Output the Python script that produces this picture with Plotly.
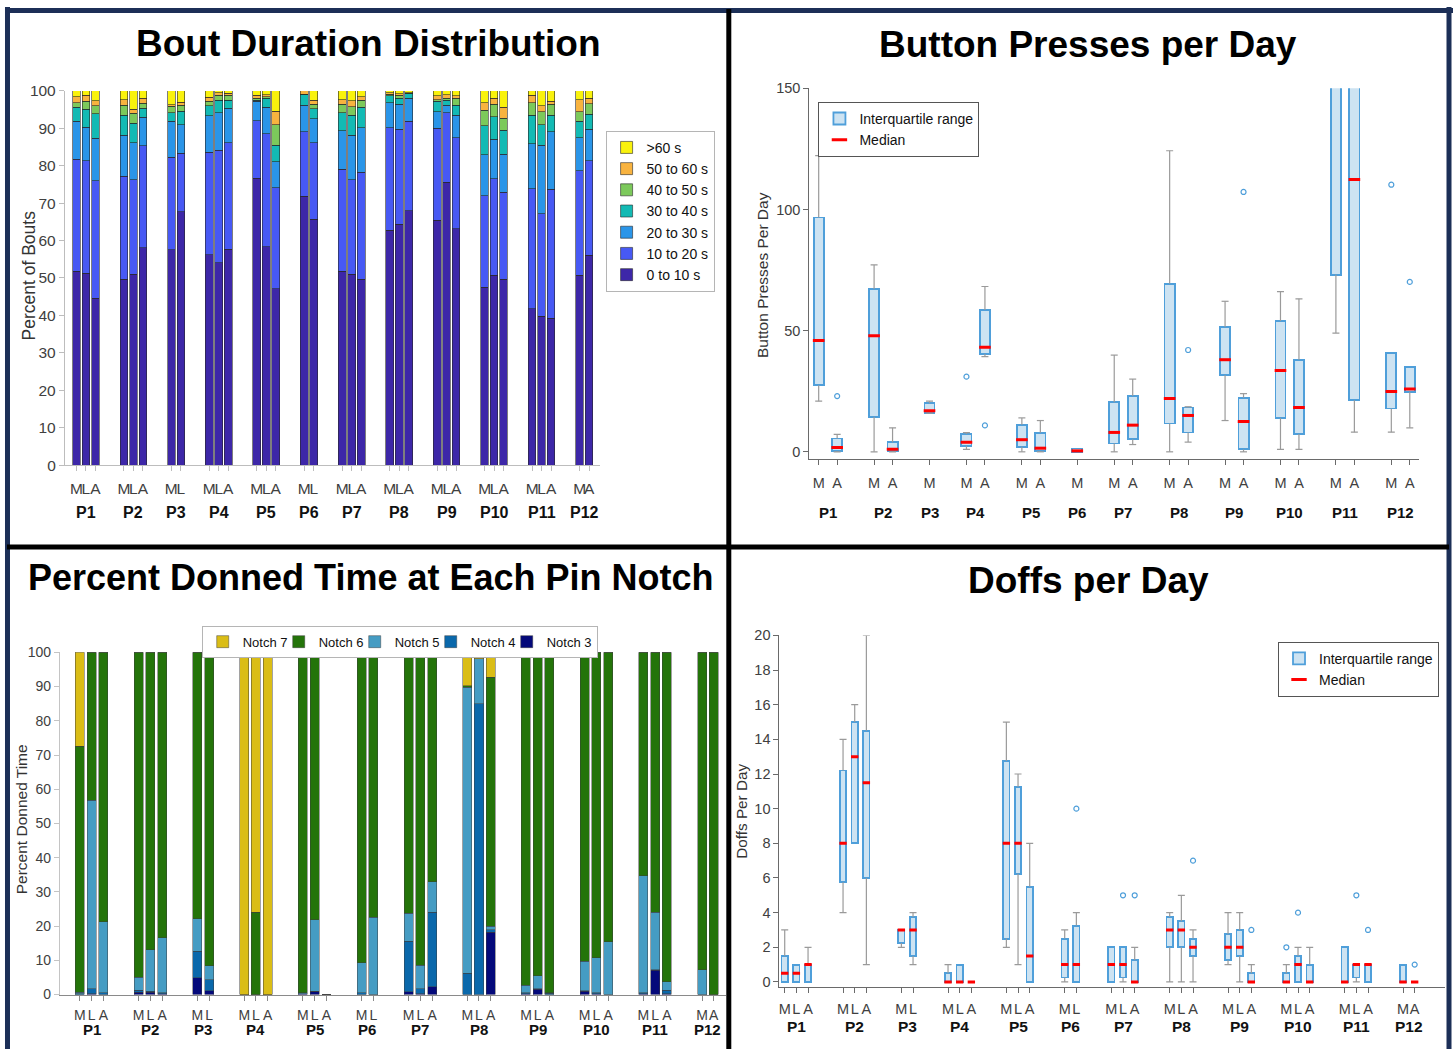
import numpy as np
import plotly.graph_objects as go

W, H = 1453, 1049
FONT = "Arial, 'Liberation Sans', sans-serif"

# ---------------- shared labels ----------------
participants = ["P1", "P2", "P3", "P4", "P5", "P6", "P7", "P8", "P9", "P10", "P11", "P12"]
conds_three = [["M", "L", "A"], ["M", "L", "A"], ["M", "L"], ["M", "L", "A"], ["M", "L", "A"], ["M", "L"],
               ["M", "L", "A"], ["M", "L", "A"], ["M", "L", "A"], ["M", "L", "A"], ["M", "L", "A"], ["M", "A"]]
conds_press = [["M", "A"], ["M", "A"], ["M"], ["M", "A"], ["M", "A"], ["M"],
               ["M", "A"], ["M", "A"], ["M", "A"], ["M", "A"], ["M", "A"], ["M", "A"]]

# ---------------- Panel 1: bout duration (cumulative upper edges, %) ----------------
bout_names = ["0 to 10 s", "10 to 20 s", "20 to 30 s", "30 to 40 s", "40 to 50 s", "50 to 60 s", ">60 s"]
bout_colors = ["#3d27a8", "#4759f4", "#2a95e8", "#13bab4", "#7cc95b", "#f8b33f", "#f9f20c"]
bout_upper_0_10 = [51.8, 51.3, 44.6, 49.6, 51.0, 58.1, 57.6, 67.7, 56.2, 54.1, 57.7, 76.6, 58.3, 47.1, 71.8, 65.7,
                   51.8, 51.0, 49.7, 62.8, 64.4, 68.0, 65.4, 75.6, 63.2, 47.5, 50.7, 49.7, 41.8, 39.8, 39.3, 50.7, 56.1]
bout_upper_10_20 = [81.8, 81.3, 76.0, 77.2, 76.2, 85.3, 82.3, 83.4, 83.6, 84.1, 86.1, 92.0, 88.5, 74.1, 89.1, 86.1,
                    79.1, 76.2, 78.2, 90.2, 89.8, 91.9, 90.0, 94.1, 87.5, 72.0, 76.5, 72.9, 73.8, 67.2, 73.7, 78.6, 81.3]
bout_upper_20_30 = [91.9, 90.3, 87.3, 88.2, 86.1, 93.0, 91.9, 90.9, 93.3, 94.1, 95.4, 97.2, 95.6, 81.1, 96.2, 92.5,
                    89.3, 88.2, 90.2, 96.8, 96.5, 98.1, 94.4, 96.2, 93.5, 82.9, 87.1, 83.1, 85.9, 85.5, 89.1, 87.5, 89.7]
bout_upper_30_40 = [95.7, 95.1, 93.9, 93.5, 91.3, 95.4, 94.1, 94.5, 96.0, 97.5, 97.5, 97.5, 98.1, 85.5, 99.0, 95.3,
                    94.1, 93.5, 95.6, 98.7, 98.1, 99.2, 97.2, 97.5, 96.2, 90.7, 93.1, 89.5, 93.5, 90.9, 93.5, 91.9, 93.8]
bout_upper_40_50 = [96.9, 97.3, 96.0, 96.2, 94.0, 96.7, 95.9, 96.2, 97.3, 98.8, 98.8, 98.0, 98.5, 90.9, 99.1, 96.4,
                    96.4, 95.8, 97.5, 99.1, 98.8, 99.4, 97.7, 98.1, 98.0, 94.8, 96.4, 92.7, 96.9, 94.4, 96.4, 94.4, 96.6]
bout_upper_50_60 = [98.5, 98.8, 97.4, 97.7, 95.1, 98.0, 96.3, 97.0, 98.3, 99.5, 99.4, 98.8, 99.0, 94.5, 100.0, 97.5,
                    97.7, 97.4, 98.5, 99.5, 99.3, 99.5, 98.7, 99.0, 98.7, 96.9, 98.0, 95.6, 98.8, 96.0, 97.3, 97.7, 98.0]
bout_upper_over_60 = [100.0] * 33

# ---------------- Panel 2: button presses per day (box statistics) ----------------
press_low = [20.9, 0, 0, 0, 16.0, 1.0, 39.3, 0, 0, 0, 0, 3.0, 0, 4.0, 12.9, 0, 1.0, 1.0, 49.0, 8.1, 8.1, 9.9]
press_q1 = [27.5, 0.3, 14.5, 0.3, 16.1, 2.5, 40.4, 2.1, 0.3, 0, 3.4, 5.2, 11.7, 8.0, 31.7, 1.0, 14.0, 7.4, 73.1, 21.3, 17.9, 24.8]
press_med = [45.9, 1.8, 47.9, 1.1, 16.9, 3.9, 43.1, 5.0, 1.5, 0.4, 8.0, 11.0, 22.0, 15.0, 38.0, 12.5, 33.5, 18.3, 165.0, 112.3, 24.9, 25.9]
press_q3 = [96.7, 5.5, 67.2, 3.9, 20.0, 7.3, 58.5, 11.2, 7.9, 1.4, 20.4, 23.0, 69.3, 18.3, 51.5, 22.3, 54.0, 38.0, 220.0, 190.0, 40.9, 35.1]
press_high = [122.2, 7.2, 77.1, 9.9, 20.9, 7.9, 68.2, 14.0, 12.9, 1.4, 39.9, 30.0, 124.2, 18.6, 62.1, 24.0, 66.1, 63.1, 280.0, 250.0, 40.9, 35.1]
press_outlier_box = [1, 5, 6, 13, 15, 20, 21]
press_outlier_val = [23.0, 31.0, 10.9, 42.0, 107.2, 110.2, 70.1]

# ---------------- Panel 3: donned time per notch (cumulative upper edges, %) ----------------
notch_names = ["Notch 3", "Notch 4", "Notch 5", "Notch 6", "Notch 7"]
notch_colors = ["#04097a", "#0a68ab", "#459cc3", "#24740a", "#dabd16"]
notch_upper_3 = [0, 0.2, 0, 0.7, 0.7, 0.3, 4.9, 1.1, 0, 0, 0, 0.3, 1.0, 0, 0, 0,
                 0.8, 0.3, 2.3, 0, 0, 18.2, 0.2, 1.5, 0, 1.0, 0.2, 0, 0.2, 7.1, 0.3, 0, 0]
notch_upper_4 = [0.2, 1.7, 0.5, 1.2, 1.0, 0.5, 12.7, 4.3, 0, 0, 0, 0.3, 1.0, 0, 0.5, 0,
                 15.6, 1.7, 24.0, 6.3, 85.0, 19.0, 0.5, 1.7, 0.4, 1.1, 0.5, 0, 0.6, 7.3, 1.2, 0, 0]
notch_upper_5 = [0.7, 56.8, 21.3, 5.0, 13.1, 16.6, 22.2, 8.4, 0, 0, 0, 0.5, 21.9, 0, 9.3, 22.6,
                 23.8, 8.6, 32.9, 89.8, 98.1, 19.9, 2.7, 5.5, 0.6, 9.7, 10.8, 15.5, 34.7, 24.0, 3.8, 7.3, 0]
notch_upper_6 = [72.5, 100, 100, 100, 100, 100, 100, 100, 0, 24.0, 0, 100, 100, 0, 100, 100,
                 100, 100, 100, 90.3, 98.2, 92.7, 100, 100, 100, 100, 100, 100, 100, 100, 100, 100, 100]
notch_upper_7 = [100, 100, 100, 100, 100, 100, 100, 100, 100, 100, 100, 100, 100, 0, 100, 100,
                 100, 100, 100, 100, 100, 100, 100, 100, 100, 100, 100, 100, 100, 100, 100, 100, 100]

# ---------------- Panel 4: doffs per day (box statistics) ----------------
doff_low = [0, 0, 0, 4.0, 8.0, 1.0, 2.0, 1.0, 0, 0, 0, 2.0, 1.0, 0, 0, 0,
            0, 0, 0, 0, 0, 0, 1.0, 0, 0, 0, 0, 0, 0, 0, 0, 0, 0]
doff_q1 = [0, 0, 0, 5.75, 8.0, 6.0, 2.25, 1.5, 0, 0, 0, 2.5, 6.25, 0, 0.25, 0,
           0, 0.25, 0, 2.0, 2.0, 1.5, 1.25, 1.5, 0, 0, 0, 0, 0, 0.25, 0, 0, 0]
doff_med = [0.5, 0.5, 1.0, 8.0, 13.0, 11.5, 3.0, 3.0, 0, 0, 0, 8.0, 8.0, 1.5, 1.0, 1.0,
            1.0, 1.0, 0, 3.0, 3.0, 2.0, 2.0, 2.0, 0, 0, 1.0, 0, 0, 1.0, 1.0, 0, 0]
doff_q3 = [1.5, 1.0, 1.0, 12.2, 15.0, 14.5, 3.0, 3.75, 0.5, 1.0, 0, 12.75, 11.25, 5.5, 2.5, 3.25,
           2.0, 2.0, 1.25, 3.75, 3.5, 2.5, 2.75, 3.0, 0.5, 0.5, 1.5, 1.0, 2.0, 1.0, 1.0, 1.0, 0]
doff_high = [3.0, 1.0, 2.0, 14.0, 16.0, 20.0, 3.0, 4.0, 1.0, 1.0, 0, 15.0, 12.0, 8.0, 3.0, 4.0,
             2.0, 2.0, 2.0, 4.0, 5.0, 3.0, 4.0, 4.0, 1.0, 1.0, 2.0, 2.0, 2.0, 1.0, 1.0, 1.0, 0]
doff_outlier_box = [15, 17, 18, 21, 24, 25, 26, 29, 30, 32]
doff_outlier_val = [10.0, 5.0, 5.0, 7.0, 3.0, 2.0, 4.0, 5.0, 3.0, 1.0]


# ---------------- helpers ----------------
def group_positions(groups, gap):
    pos, centers, x = [], [], 0
    for g in groups:
        p = [x + i for i in range(len(g))]
        pos += p
        centers.append(sum(p) / len(p))
        x += len(g) + gap
    return pos, centers


def flat(groups):
    return [c for g in groups for c in g]


def px(x):
    return x / W


# vertical placement: compensates the page offset/scale seen in the rendered screenshot
Y_OFF, Y_SCALE = 7.9, 0.986


def py(y):
    return 1 - ((y - Y_OFF) / Y_SCALE) / H


pos3, cen3 = group_positions(conds_three, 2)
posP, cenP = group_positions(conds_press, 1)
tick3 = flat(conds_three)
tickP = flat(conds_press)

fig = go.Figure()

# Panel 1 stacked bars
bout_cum = np.array([bout_upper_0_10, bout_upper_10_20, bout_upper_20_30, bout_upper_30_40,
                     bout_upper_40_50, bout_upper_50_60, bout_upper_over_60])
bout_seg = np.diff(np.vstack([np.zeros(len(pos3)), bout_cum]), axis=0)
for name, col, seg in zip(bout_names, bout_colors, bout_seg):
    fig.add_trace(go.Bar(x=pos3, y=seg, width=0.8, name=name, xaxis="x", yaxis="y", legend="legend",
                         marker=dict(color=col, line=dict(color="rgba(40,40,40,0.75)", width=0.8))))

# Panel 3 stacked bars
notch_cum = np.array([notch_upper_3, notch_upper_4, notch_upper_5, notch_upper_6, notch_upper_7])
notch_seg = np.diff(np.vstack([np.zeros(len(pos3)), notch_cum]), axis=0)
for i, (name, col, seg) in enumerate(zip(notch_names, notch_colors, notch_seg)):
    extra = {} if i == 0 else {"legendwidth": 31}
    fig.add_trace(go.Bar(x=pos3, y=seg, width=0.77, name=name, xaxis="x3", yaxis="y3", legend="legend3",
                         marker=dict(color=col, line=dict(color="rgba(60,60,60,0.6)", width=0.8)), **extra))

BOX_FILL = "#cde3f2"
BOX_EDGE = "#4f9fda"
WHISK = "#9a9a9a"


def add_boxes(pos, low, q1, med, q3, high, ob, ov, xa, ya, leg, width):
    hw = width / 2 + 0.04
    wx, wy, cx, cy = [], [], [], []
    for p, lo, a, b, hi in zip(pos, low, q1, q3, high):
        if lo < a:
            wx += [p, p, None]; wy += [lo, a, None]; cx.append(p); cy.append(lo)
        if hi > b:
            wx += [p, p, None]; wy += [b, hi, None]; cx.append(p); cy.append(hi)
    fig.add_trace(go.Scatter(x=wx, y=wy, mode="lines", line=dict(color=WHISK, width=1.2),
                             xaxis=xa, yaxis=ya, showlegend=False, hoverinfo="skip"))
    fig.add_trace(go.Scatter(x=cx, y=cy, mode="markers", xaxis=xa, yaxis=ya, showlegend=False, hoverinfo="skip",
                             marker=dict(symbol="line-ew", size=5, line=dict(color=WHISK, width=1.2))))
    fig.add_trace(go.Bar(x=pos, base=q1, y=np.array(q3) - np.array(q1), width=width, name="Interquartile range",
                         xaxis=xa, yaxis=ya, legend=leg,
                         marker=dict(color=BOX_FILL, line=dict(color=BOX_EDGE, width=1.8))))
    mx, my = [], []
    for p, m in zip(pos, med):
        mx += [p - hw, p + hw, None]; my += [m, m, None]
    fig.add_trace(go.Scatter(x=mx, y=my, mode="lines", line=dict(color="#ff0000", width=3),
                             xaxis=xa, yaxis=ya, showlegend=False, hoverinfo="skip"))
    fig.add_trace(go.Scatter(x=[pos[i] for i in ob], y=ov, mode="markers", xaxis=xa, yaxis=ya,
                             showlegend=False, hoverinfo="skip",
                             marker=dict(symbol="circle-open", size=5, color=BOX_EDGE, line=dict(width=1.2))))
    fig.add_trace(go.Scatter(x=[None], y=[None], mode="markers", name="Median", xaxis=xa, yaxis=ya, legend=leg,
                             marker=dict(symbol="line-ew", size=11, line=dict(color="#ff0000", width=3))))


add_boxes(posP, press_low, press_q1, press_med, press_q3, press_high,
          press_outlier_box, press_outlier_val, "x2", "y2", "legend2", 0.55)
add_boxes(pos3, doff_low, doff_q1, doff_med, doff_q3, doff_high,
          doff_outlier_box, doff_outlier_val, "x4", "y4", "legend4", 0.55)


def tf(size):
    return dict(family=FONT, size=size, color="#404040")


def xax(domain, rng, anchor, tickvals, ticktext, linecolor, standoff, fsize):
    return dict(domain=domain, range=rng, anchor=anchor, showgrid=False, zeroline=False, showline=True,
                linecolor=linecolor, linewidth=1.2, ticks="outside", ticklen=5, tickcolor=linecolor,
                tickmode="array", tickvals=tickvals, ticktext=ticktext, tickangle=0, tickfont=tf(fsize),
                ticklabelstandoff=standoff, fixedrange=True)


def yax(domain, rng, anchor, dtick, linecolor, fsize):
    return dict(domain=domain, range=rng, anchor=anchor, showgrid=False, zeroline=False, showline=True,
                linecolor=linecolor, linewidth=1.2, ticks="outside", ticklen=5, tickcolor=linecolor,
                tick0=0, dtick=dtick, tickfont=tf(fsize), fixedrange=True)


legend_common = dict(bgcolor="white", borderwidth=1, itemwidth=30, tracegroupgap=0,
                     yanchor="top", font=dict(family=FONT, size=14, color="#111"))

fig.update_layout(
    width=W, height=H, margin=dict(l=0, r=0, t=0, b=0), paper_bgcolor="white", plot_bgcolor="white",
    barmode="stack", font=dict(family=FONT), showlegend=True,
    xaxis=xax([px(64), px(599)], [-1.2, 55.1], "y", pos3, tick3, "#bdbdbd", 4, 15.5),
    yaxis=yax([py(465), py(90)], [0, 100], "x", 10, "#bdbdbd", 15.5),
    xaxis2=xax([px(809), px(1419)], [-0.5, 32.5], "y2", posP, tickP, "#6a6a6a", 5, 14.5),
    yaxis2=yax([py(459), py(87.3)], [-3, 150], "x2", 50, "#6a6a6a", 14.5),
    xaxis3=xax([px(59), px(725)], [-1.7, 55.0], "y3", pos3, tick3, "#8a8a8a", 3, 14),
    yaxis3=yax([py(995.7), py(652.7)], [0, 100], "x3", 10, "#c4c4c4", 14),
    xaxis4=xax([px(779), px(1445)], [-0.45, 56.6], "y4", pos3, tick3, "#6a6a6a", 4, 14.5),
    yaxis4=yax([py(987.7), py(635.7)], [-0.27, 20], "x4", 2, "#6a6a6a", 14.5),
    legend=dict(legend_common, x=px(605), y=py(130), xanchor="left", traceorder="reversed", bordercolor="#b5b5b5"),
    legend2=dict(legend_common, x=px(818), y=py(101), xanchor="left", traceorder="normal", bordercolor="#555"),
    legend3=dict(legend_common, x=px(399), y=py(626), xanchor="center", traceorder="reversed", orientation="h",
                 bordercolor="#b5b5b5", font=dict(family=FONT, size=13, color="#111")),
    legend4=dict(legend_common, x=px(1439), y=py(642), xanchor="right", traceorder="normal", bordercolor="#555"),
)

ann = []
# titles
for text, x, y, fs in [("Bout Duration Distribution", 368, 42, 37), ("Button Presses per Day", 1088, 43, 37),
                       ("Percent Donned Time at Each Pin Notch", 370, 578, 36), ("Doffs per Day", 1088, 581, 37)]:
    ann.append(dict(text=f"<b>{text}</b>", x=px(x), y=py(y), xref="paper", yref="paper", showarrow=False,
                    xanchor="center", yanchor="middle", font=dict(family=FONT, size=fs, color="#000")))
# y-axis titles
for text, x, y, fs in [("Percent of Bouts", 28, 275, 17.5), ("Button Presses Per Day", 762, 274, 15.5),
                       ("Percent Donned Time", 20, 820, 15.5), ("Doffs Per Day", 741, 812, 15.3)]:
    ann.append(dict(text=text, x=px(x), y=py(y), xref="paper", yref="paper", showarrow=False, textangle=-90,
                    xanchor="center", yanchor="middle", font=dict(family=FONT, size=fs, color="#333")))
# participant group labels
for xa, cens, ypix, fs in [("x", cen3, 513, 16), ("x2", cenP, 513, 15), ("x3", cen3, 1031, 15),
                           ("x4", cen3, 1028, 15.5)]:
    for lab, c in zip(participants, cens):
        ann.append(dict(text=f"<b>{lab}</b>", x=c, y=py(ypix), xref=xa, yref="paper", showarrow=False,
                        xanchor="center", yanchor="middle", font=dict(family=FONT, size=fs, color="#111")))
fig.update_layout(annotations=ann)

# panel frame lines
NAVY = "#1c2f57"
shapes = [
    dict(type="line", x0=px(4), x1=px(1453), y0=py(9.5), y1=py(9.5), line=dict(color=NAVY, width=5)),
    dict(type="line", x0=px(6.5), x1=px(6.5), y0=py(6), y1=py(1060), line=dict(color=NAVY, width=5)),
    dict(type="line", x0=px(1449), x1=px(1449), y0=py(6), y1=py(1060), line=dict(color=NAVY, width=5)),
    dict(type="line", x0=px(728.3), x1=px(728.3), y0=py(8), y1=py(1060), line=dict(color="#000", width=5)),
    dict(type="line", x0=px(6), x1=px(1449), y0=py(547), y1=py(547), line=dict(color="#000", width=5)),
]
for s in shapes:
    s.update(xref="paper", yref="paper")
fig.update_layout(shapes=shapes)

fig.write_html("out.html",
               post_script="document.body.style.margin='0';document.body.style.overflow='hidden';")
